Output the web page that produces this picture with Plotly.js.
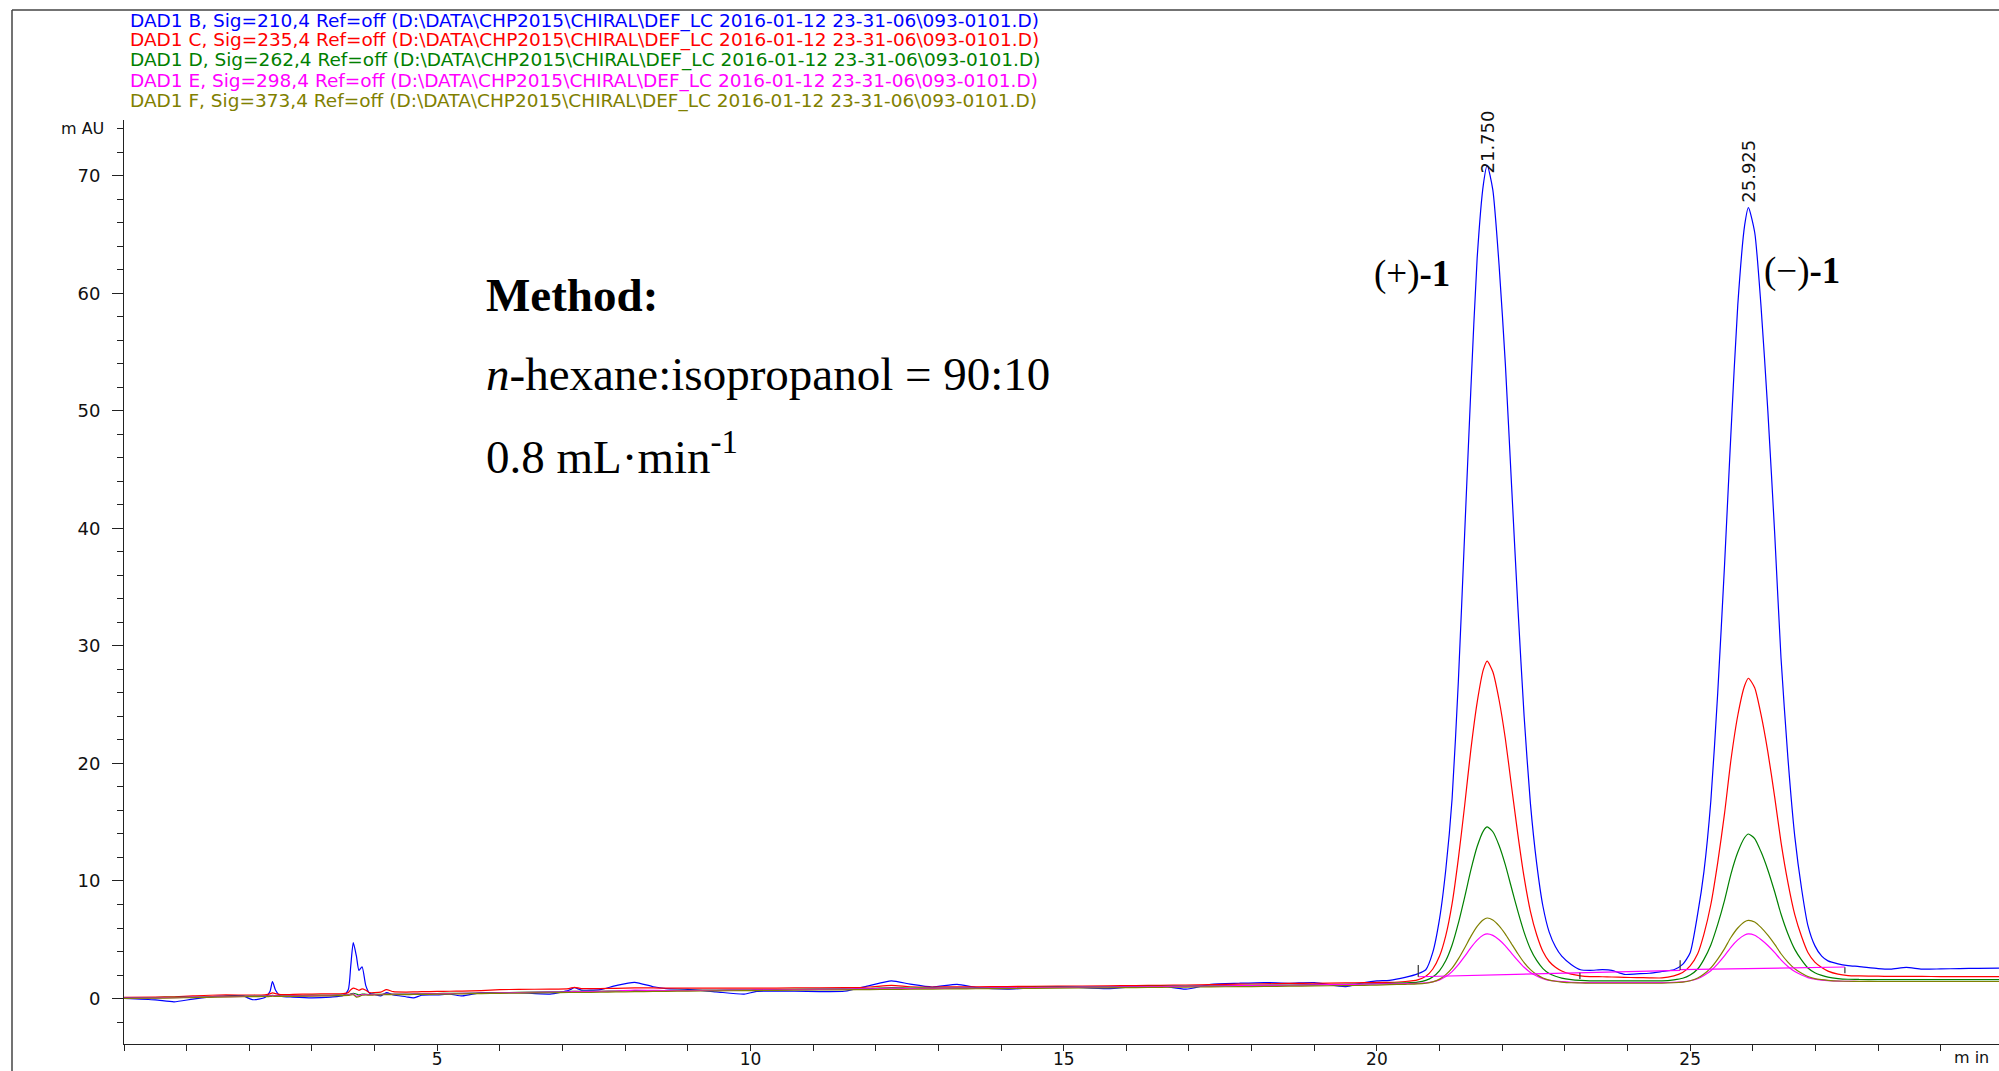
<!DOCTYPE html>
<html>
<head>
<meta charset="utf-8">
<script src="https://cdn.plot.ly/plotly-3.0.1.min.js"></script>
<style>
  html, body { margin:0; padding:0; background:#fff; overflow:hidden; }
  #chart { width:1999px; height:1071px; }
</style>
</head>
<body>
<div id="chart"></div>
<script>
// ---------------- DATA ----------------
const time = [
  0,0.5,0.8,1.1,1.5,1.9,2.05,2.25,2.33,2.37,
  2.42,2.5,2.7,3.0,3.3,3.5,3.58,3.62,3.66,3.71,
  3.75,3.8,3.86,3.92,4.0,4.1,4.19,4.3,4.5,4.62,
  4.75,5.0,5.2,5.4,5.7,6.0,6.3,6.8,7.1,7.19,
  7.3,7.6,7.85,8.15,8.45,8.65,9.0,9.45,9.9,10.1,
  10.7,11.5,11.9,12.25,12.55,12.9,13.3,13.6,14.1,14.9,
  15.7,16.15,16.55,16.95,17.35,17.8,18.2,18.6,19.0,19.5,
  19.8,20.0,
  20.2,20.45,20.65,20.78,20.89,21.0,21.1,21.2,21.3,21.4,
  21.5,21.6,21.7,21.76,21.85,21.95,22.05,22.15,22.25,22.35,
  22.45,22.55,22.65,22.75,22.85,22.95,23.1,23.25,
  23.4,23.6,23.75,23.95,24.15,24.35,24.55,
  24.74,24.88,25.0,25.12,25.22,25.33,25.44,25.55,25.65,25.76,
  25.87,25.93,26.03,26.13,26.24,26.35,26.45,26.56,26.67,26.78,
  26.88,26.99,27.1,27.2,27.36,27.52,
  27.7,28.0,28.2,28.45,28.7,29.0,29.3,29.6,29.93
];

const sigB210 = [
  0.0,-0.12,-0.28,-0.05,0.2,0.22,-0.1,0.08,0.6,1.45,
  0.7,0.2,0.12,0.05,0.12,0.25,0.75,2.8,4.75,3.6,
  2.4,2.7,1.1,0.45,0.35,0.22,0.5,0.3,0.15,0.05,
  0.28,0.3,0.37,0.22,0.5,0.5,0.5,0.38,0.7,0.92,
  0.72,0.75,1.1,1.38,1.0,0.85,0.78,0.57,0.37,0.6,
  0.62,0.62,1.1,1.5,1.22,0.98,1.2,0.95,0.8,1.02,
  0.85,1.02,1.08,0.8,1.2,1.3,1.36,1.3,1.36,1.02,
  1.36,1.5,
  1.55,1.8,2.1,2.45,3.9,6.8,11.0,17.0,27.0,39.5,
  51.9,63.0,69.3,70.9,68.8,62.4,54.0,43.6,33.3,24.0,
  16.6,11.5,7.85,5.65,4.4,3.6,2.9,2.45,
  2.4,2.45,2.4,2.05,2.1,2.15,2.3,
  2.45,2.9,3.9,7.2,10.8,16.8,26.0,37.0,48.0,59.0,
  65.8,67.3,65.2,59.0,50.0,39.5,29.0,20.5,13.8,9.3,
  6.2,4.5,3.6,3.2,2.95,2.8,
  2.72,2.55,2.5,2.65,2.5,2.52,2.55,2.57,2.58
];

const sigC235 = [
  0.1,0.12,0.15,0.22,0.3,0.3,0.3,0.32,0.4,0.48,
  0.42,0.33,0.35,0.38,0.4,0.42,0.5,0.75,0.88,0.8,
  0.7,0.82,0.7,0.5,0.5,0.55,0.75,0.58,0.55,0.56,
  0.58,0.6,0.62,0.63,0.68,0.75,0.78,0.8,0.85,0.95,
  0.85,0.85,0.87,0.9,0.9,0.88,0.88,0.88,0.88,0.88,
  0.9,0.92,0.98,1.12,1.0,0.98,1.0,1.0,1.02,1.05,
  1.08,1.1,1.12,1.15,1.18,1.22,1.25,1.28,1.3,1.33,
  1.35,1.37,
  1.38,1.45,1.59,1.89,2.49,3.61,5.37,8.07,11.9,16.4,
  21.2,25.2,28.0,28.7,27.8,25.4,22.1,18.0,13.95,10.3,
  7.42,5.43,4.0,3.15,2.66,2.34,2.07,1.93,
  1.87,1.85,1.83,1.8,1.78,1.76,1.75,
  1.93,2.21,2.77,3.81,5.48,8.0,11.57,15.79,20.25,24.08,
  26.63,27.25,26.44,24.19,20.99,17.12,13.31,9.88,7.13,5.25,
  3.91,3.09,2.63,2.33,2.07,1.95,
  1.92,1.9,1.88,1.88,1.88,1.87,1.87,1.87,1.87
];

const sigD262 = [
  0.05,0.08,0.1,0.13,0.17,0.2,0.21,0.22,0.23,0.28,
  0.24,0.23,0.24,0.26,0.28,0.3,0.32,0.4,0.45,0.38,
  0.3,0.38,0.36,0.34,0.35,0.36,0.4,0.37,0.38,0.39,
  0.4,0.42,0.44,0.45,0.48,0.5,0.52,0.56,0.58,0.62,
  0.6,0.62,0.64,0.68,0.68,0.68,0.7,0.72,0.74,0.75,
  0.78,0.82,0.85,0.92,0.88,0.88,0.9,0.91,0.93,0.97,
  1.0,1.02,1.04,1.06,1.08,1.1,1.13,1.15,1.18,1.21,
  1.24,1.26,
  1.28,1.33,1.39,1.54,1.83,2.38,3.23,4.55,6.41,8.61,
  10.94,12.93,14.27,14.6,14.19,13.02,11.37,9.38,7.41,5.63,
  4.22,3.24,2.55,2.13,1.9,1.74,1.61,1.54,
  1.5,1.5,1.5,1.5,1.5,1.5,1.5,
  1.59,1.72,2.0,2.51,3.33,4.56,6.31,8.38,10.57,12.44,
  13.7,14.0,13.61,12.5,10.94,9.06,7.19,5.51,4.18,3.26,
  2.6,2.2,1.97,1.82,1.7,1.64,
  1.62,1.6,1.6,1.6,1.6,1.6,1.6,1.6,1.6
];

const sigE298 = [
  0.03,0.06,0.08,0.11,0.15,0.18,0.19,0.2,0.21,0.24,
  0.22,0.21,0.22,0.24,0.26,0.28,0.3,0.36,0.38,0.2,
  0.22,0.33,0.33,0.32,0.33,0.34,0.37,0.35,0.36,0.37,
  0.38,0.4,0.42,0.43,0.46,0.48,0.5,0.54,0.56,0.6,
  0.58,0.6,0.64,0.72,0.7,0.67,0.68,0.7,0.72,0.73,
  0.76,0.8,0.83,0.88,0.85,0.86,0.88,0.89,0.91,0.95,
  0.98,1.0,1.02,1.04,1.06,1.09,1.11,1.13,1.16,1.19,
  1.22,1.24,
  1.24,1.26,1.28,1.33,1.42,1.59,1.87,2.29,2.88,3.58,
  4.33,4.97,5.4,5.5,5.37,5.0,4.48,3.85,3.23,2.66,
  2.22,1.91,1.69,1.55,1.48,1.43,1.38,1.36,
  1.35,1.35,1.35,1.35,1.35,1.35,1.35,
  1.38,1.42,1.51,1.68,1.96,2.36,2.95,3.64,4.36,4.99,
  5.41,5.5,5.38,5.02,4.51,3.9,3.29,2.73,2.3,2.0,
  1.78,1.65,1.57,1.52,1.48,1.46,
  1.45,1.45,1.45,1.45,1.45,1.45,1.45,1.45,1.45
];

const sigF373 = [
  0.0,0.03,0.05,0.08,0.12,0.15,0.16,0.17,0.17,0.2,
  0.18,0.18,0.19,0.21,0.23,0.25,0.27,0.3,0.32,0.12,
  0.15,0.28,0.3,0.29,0.3,0.31,0.33,0.32,0.33,0.34,
  0.35,0.37,0.38,0.4,0.42,0.44,0.46,0.49,0.51,0.52,
  0.52,0.54,0.56,0.58,0.6,0.61,0.63,0.65,0.67,0.68,
  0.71,0.74,0.76,0.78,0.79,0.8,0.82,0.83,0.85,0.88,
  0.91,0.93,0.95,0.97,0.99,1.01,1.03,1.05,1.07,1.1,
  1.12,1.14,
  1.18,1.21,1.24,1.3,1.42,1.65,2.03,2.58,3.37,4.3,
  5.29,6.14,6.71,6.85,6.68,6.18,5.48,4.64,3.81,3.05,
  2.46,2.04,1.75,1.57,1.47,1.4,1.34,1.32,
  1.3,1.3,1.3,1.3,1.3,1.3,1.3,
  1.34,1.4,1.51,1.74,2.08,2.61,3.36,4.25,5.19,6.0,
  6.54,6.65,6.51,6.05,5.39,4.6,3.81,3.1,2.53,2.15,
  1.87,1.7,1.61,1.55,1.49,1.47,
  1.46,1.45,1.45,1.45,1.45,1.45,1.45,1.45,1.45
];

// integration baseline (drawn for signal B) and peak start/stop marks
const intBaseT = [20.66, 24.84, null, 24.84, 27.47];
const intBaseV = [1.85, 2.40, null, 2.45, 2.68];
const markT = [20.66, 20.66, null, 23.24, 23.24, null, 24.84, 24.84, null, 27.47, 27.47];
const markV = [1.85, 2.85, null, 2.19, 1.65, null, 2.42, 3.25, null, 2.66, 2.15];

// peak labels
const peakTimes = [21.76, 25.94];
const peakLabelTop = [70.0, 67.5];
const peakLabels = ['21.750', '25.925'];

// signal descriptions
const signalNames = [
  'DAD1 B, Sig=210,4 Ref=off (D:\\DATA\\CHP2015\\CHIRAL\\DEF_LC 2016-01-12 23-31-06\\093-0101.D)',
  'DAD1 C, Sig=235,4 Ref=off (D:\\DATA\\CHP2015\\CHIRAL\\DEF_LC 2016-01-12 23-31-06\\093-0101.D)',
  'DAD1 D, Sig=262,4 Ref=off (D:\\DATA\\CHP2015\\CHIRAL\\DEF_LC 2016-01-12 23-31-06\\093-0101.D)',
  'DAD1 E, Sig=298,4 Ref=off (D:\\DATA\\CHP2015\\CHIRAL\\DEF_LC 2016-01-12 23-31-06\\093-0101.D)',
  'DAD1 F, Sig=373,4 Ref=off (D:\\DATA\\CHP2015\\CHIRAL\\DEF_LC 2016-01-12 23-31-06\\093-0101.D)'
];
const signalColors = ['#0000FF', '#FF0000', '#008000', '#FF00FF', '#808000'];

const xTickVals = [5, 10, 15, 20, 25];
const yTickVals = [0, 10, 20, 30, 40, 50, 60, 70];

// ---------------- LAYOUT ----------------
const W = 1999, H = 1071;
const ML = 124, MR = 0, MT = 120, MB = 27;
const PW = W - ML - MR, PH = H - MT - MB;
const px = x => (x - ML) / PW;
const py = y => (H - MB - y) / PH;

const series = [sigB210, sigC235, sigD262, sigE298, sigF373];
const traces = series.map((s, i) => ({
  x: time, y: s, type: 'scatter', mode: 'lines',
  line: { color: signalColors[i], width: 1.2, shape: 'spline', smoothing: 0.6 },
  name: signalNames[i], hoverinfo: 'skip'
}));
traces.push({
  x: intBaseT, y: intBaseV, type: 'scatter', mode: 'lines',
  line: { color: '#FF00FF', width: 1.2 }, hoverinfo: 'skip'
});
traces.push({
  x: markT, y: markV, type: 'scatter', mode: 'lines',
  line: { color: '#333333', width: 1.2 }, hoverinfo: 'skip'
});

const annotations = [];

signalNames.forEach((t, i) => {
  annotations.push({
    text: t, xref: 'paper', yref: 'paper',
    x: px(128), y: py(20.5 + 20 * i), xanchor: 'left', yanchor: 'middle',
    showarrow: false, font: { family: 'DejaVu Sans', size: 18.5, color: signalColors[i] }
  });
});

peakLabels.forEach((t, i) => {
  annotations.push({
    text: t, x: peakTimes[i], y: peakLabelTop[i], xref: 'x', yref: 'y',
    xanchor: 'center', yanchor: 'bottom', textangle: -90, showarrow: false,
    font: { family: 'DejaVu Sans', size: 18, color: '#111' }
  });
});

const serif = 'Liberation Serif, Times New Roman, serif';
annotations.push(
  { text: '<b>Method:</b>', xref: 'paper', yref: 'paper', x: px(484), y: py(295),
    xanchor: 'left', yanchor: 'middle', showarrow: false, font: { family: serif, size: 47, color: '#000' } },
  { text: '<i>n</i>-hexane:isopropanol = 90:10', xref: 'paper', yref: 'paper', x: px(484), y: py(374),
    xanchor: 'left', yanchor: 'middle', showarrow: false, font: { family: serif, size: 47, color: '#000' } },
  { text: '0.8 mL·min<sup>-1</sup>', xref: 'paper', yref: 'paper', x: px(484), y: py(453),
    xanchor: 'left', yanchor: 'middle', showarrow: false, font: { family: serif, size: 47, color: '#000' } },
  { text: '(+)<b>-1</b>', xref: 'paper', yref: 'paper', x: px(1372), y: py(274),
    xanchor: 'left', yanchor: 'middle', showarrow: false, font: { family: serif, size: 37, color: '#000' } },
  { text: '(−)<b>-1</b>', xref: 'paper', yref: 'paper', x: px(1762), y: py(271),
    xanchor: 'left', yanchor: 'middle', showarrow: false, font: { family: serif, size: 37, color: '#000' } },
  { text: 'm AU', xref: 'paper', yref: 'paper', x: px(106), y: py(129),
    xanchor: 'right', yanchor: 'middle', showarrow: false, font: { family: 'DejaVu Sans', size: 16, color: '#111' } },
  { text: 'm in', xref: 'paper', yref: 'paper', x: px(1952), y: py(1057),
    xanchor: 'left', yanchor: 'middle', showarrow: false, font: { family: 'DejaVu Sans', size: 16, color: '#111' } }
);

const shapes = [
  { type: 'line', xref: 'paper', yref: 'paper', x0: px(12), x1: px(2010), y0: py(10), y1: py(10),
    line: { color: '#444', width: 1.5 } },
  { type: 'line', xref: 'paper', yref: 'paper', x0: px(12), x1: px(12), y0: py(10), y1: py(1080),
    line: { color: '#444', width: 1.5 } }
];

const layout = {
  width: W, height: H,
  margin: { l: ML, r: MR, t: MT, b: MB, pad: 0 },
  paper_bgcolor: '#fff', plot_bgcolor: '#fff',
  showlegend: false,
  xaxis: {
    range: [0, 29.93], showgrid: false, zeroline: false,
    showline: true, linecolor: '#222', linewidth: 1,
    ticks: '', ticklen: 0,
    tickmode: 'array', tickvals: xTickVals, ticktext: xTickVals.map(String),
    tickfont: { family: 'DejaVu Sans', size: 17, color: '#111' }, ticklabelstandoff: 0,
    minor: { tickmode: 'linear', tick0: 0, dtick: 1, ticks: 'outside', ticklen: 6, tickwidth: 1, tickcolor: '#222', showgrid: false }
  },
  yaxis: {
    range: [-3.87, 74.75], showgrid: false, zeroline: false,
    showline: true, linecolor: '#222', linewidth: 1,
    ticks: 'outside', ticklen: 11, tickwidth: 1, tickcolor: '#222',
    tickmode: 'array', tickvals: yTickVals, ticktext: yTickVals.map(String),
    tickfont: { family: 'DejaVu Sans', size: 18, color: '#111' }, ticklabelstandoff: 8,
    minor: { tickmode: 'linear', tick0: 0, dtick: 2, ticks: 'outside', ticklen: 6, tickwidth: 1, tickcolor: '#222', showgrid: false }
  },
  annotations: annotations,
  shapes: shapes
};

Plotly.newPlot('chart', traces, layout, { staticPlot: true, displayModeBar: false });
</script>
</body>
</html>
